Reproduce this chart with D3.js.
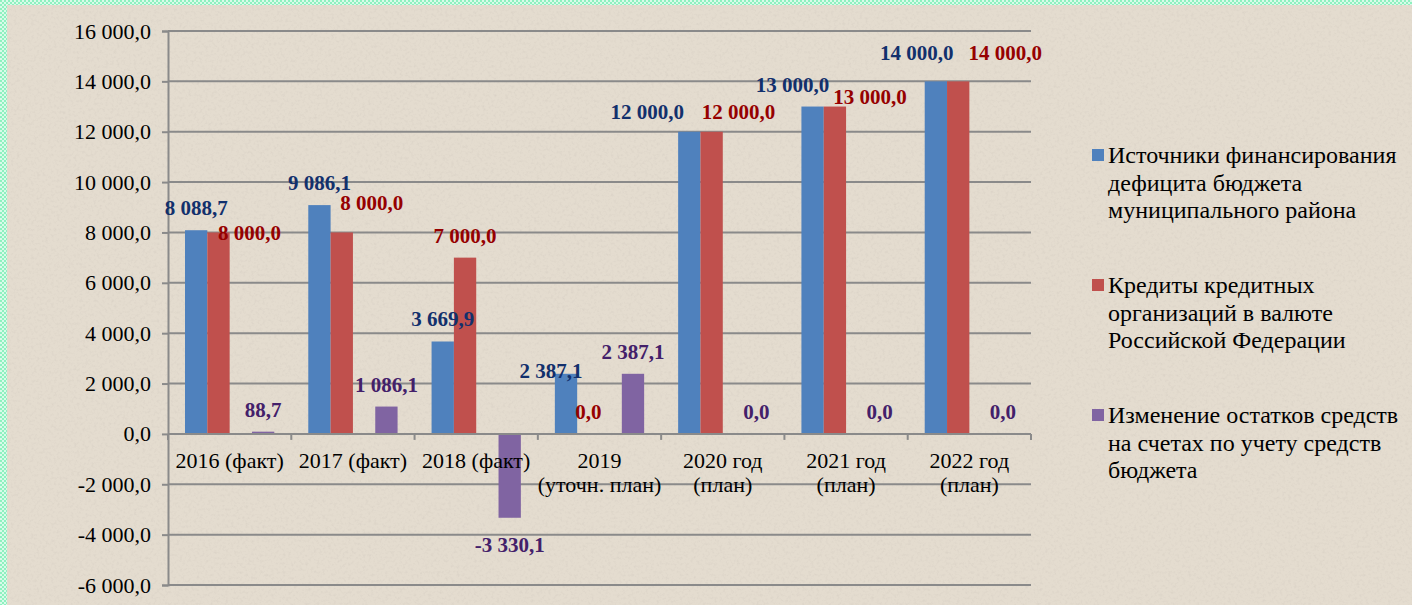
<!DOCTYPE html>
<html>
<head>
<meta charset="utf-8">
<script src="https://cdn.jsdelivr.net/npm/d3@7"></script>
<style>
  html, body { margin: 0; padding: 0; background: #e4dccf; overflow: hidden; }
  svg { display: block; }
</style>
</head>
<body>
<svg id="chart"></svg>
<script>
// --- data ---
const categories = [
  ["2016 (факт)"],
  ["2017 (факт)"],
  ["2018 (факт)"],
  ["2019", "(уточн. план)"],
  ["2020 год", "(план)"],
  ["2021 год", "(план)"],
  ["2022 год", "(план)"]
];
const sources = [8088.7, 9086.1, 3669.9, 2387.1, 12000, 13000, 14000];
const credits = [8000, 8000, 7000, 0, 12000, 13000, 14000];
const balanceChange = [88.7, 1086.1, -3330.1, 2387.1, 0, 0, 0];
const seriesNames = [
  ["Источники финансирования", "дефицита бюджета", "муниципального района"],
  ["Кредиты кредитных", "организаций в валюте", "Российской Федерации"],
  ["Изменение остатков средств", "на счетах по учету средств", "бюджета"]
];
const yTicks = [-6000, -4000, -2000, 0, 2000, 4000, 6000, 8000, 10000, 12000, 14000, 16000];

// --- layout ---
const width = 1412, height = 605;
const plot = { left: 168, right: 1031, top: 31, bottom: 585 };
const barColors = ["#4f81bd", "#c0504d", "#8064a2"];
const labelColors = ["#12306c", "#960000", "#43206a"];
// hand-moved data labels (dx, dy from the default spot above the bar)
const labelNudge = [
  [[0, 0], [0, 0], [0, 0], [-15, 19], [-42, 2], [-20, 0], [-19, -6]],
  [[31, 23], [30, -7], [0, 0], [0, 0], [27, 2], [35, 12], [47, -6]],
  [[0, 0], [0, 0], [0, 0], [0, 0], [0, 0], [0, 0], [0, 0]]
];

const fmt = (v) => {
  const s = Math.abs(v).toFixed(1).split(".");
  const int = s[0].replace(/\B(?=(\d{3})+(?!\d))/g, " ");
  return (v < 0 ? "-" : "") + int + "," + s[1];
};

const svg = d3.select("#chart").attr("width", width).attr("height", height);

// --- background: parchment + border ---
const defs = svg.append("defs");
const pat = defs.append("pattern").attr("id", "check").attr("width", 4).attr("height", 4)
  .attr("patternUnits", "userSpaceOnUse");
pat.append("rect").attr("width", 4).attr("height", 4).attr("fill", "#d8fbe9");
pat.append("rect").attr("width", 2).attr("height", 2).attr("fill", "#8ef0bf");
pat.append("rect").attr("x", 2).attr("y", 2).attr("width", 2).attr("height", 2).attr("fill", "#8ef0bf");

const noise = defs.append("filter").attr("id", "paper").attr("x", 0).attr("y", 0)
  .attr("width", "100%").attr("height", "100%");
noise.append("feTurbulence").attr("type", "fractalNoise").attr("baseFrequency", 0.35)
  .attr("numOctaves", 3).attr("seed", 7).attr("result", "t");
noise.append("feColorMatrix").attr("in", "t").attr("type", "matrix")
  .attr("values", "0 0 0 0 0.55  0 0 0 0 0.5  0 0 0 0 0.45  1.6 0 0 0 -0.75");

svg.append("rect").attr("width", width).attr("height", height).attr("fill", "url(#check)");
svg.append("rect").attr("x", 7).attr("y", 5).attr("width", width).attr("height", height)
  .attr("fill", "#e4dccf");
svg.append("rect").attr("x", 7).attr("y", 5).attr("width", width).attr("height", height)
  .attr("filter", "url(#paper)").attr("opacity", 0.35);

// --- scales ---
const x0 = d3.scaleBand().domain(d3.range(categories.length)).range([plot.left, plot.right]);
const slotPad = 34 / 123.3 / 2 * x0.bandwidth();
const x1 = d3.scaleBand().domain(["s0", "s1", "empty", "s2"]).range([slotPad, x0.bandwidth() - slotPad]);
const slotKeys = ["s0", "s1", "s2"];
const y = d3.scaleLinear().domain([-6000, 16000]).range([plot.bottom, plot.top]);

const font = "'Liberation Serif', 'Times New Roman', serif";

// --- gridlines + y axis ---
const yAxis = svg.append("g").attr("transform", `translate(${plot.left},0)`)
  .call(d3.axisLeft(y).tickValues(yTicks).tickSize(6).tickPadding(11).tickFormat(fmt));
yAxis.select(".domain").attr("stroke", "#8a8a8a").attr("stroke-width", 2);
yAxis.selectAll(".tick line").attr("stroke", "#8a8a8a").attr("stroke-width", 2);
yAxis.selectAll(".tick text").attr("fill", "#000").style("font-family", font).style("font-size", "22px");

svg.append("g").selectAll("line").data(yTicks.filter((t) => t !== 0)).join("line")
  .attr("x1", plot.left).attr("x2", plot.right)
  .attr("y1", (d) => y(d)).attr("y2", (d) => y(d))
  .attr("stroke", "#8a8a8a").attr("stroke-width", 2);

// --- bars ---
const allSeries = [sources, credits, balanceChange];
const barData = [];
allSeries.forEach((vals, si) => vals.forEach((v, ci) => barData.push({ si, ci, v })));

svg.append("g").selectAll("rect").data(barData).join("rect")
  .attr("x", (d) => x0(d.ci) + x1(slotKeys[d.si]))
  .attr("width", x1.bandwidth())
  .attr("y", (d) => y(Math.max(0, d.v)))
  .attr("height", (d) => Math.abs(y(d.v) - y(0)))
  .attr("fill", (d) => barColors[d.si]);

// --- zero axis with category ticks ---
const xAxis = svg.append("g").attr("transform", `translate(0,${y(0)})`);
xAxis.append("line").attr("x1", plot.left).attr("x2", plot.right)
  .attr("stroke", "#8a8a8a").attr("stroke-width", 2);
xAxis.selectAll("line.tk").data(d3.range(categories.length + 1)).join("line").attr("class", "tk")
  .attr("x1", (i) => plot.left + i * x0.step()).attr("x2", (i) => plot.left + i * x0.step())
  .attr("y1", 0).attr("y2", 6).attr("stroke", "#8a8a8a").attr("stroke-width", 2);

const catText = xAxis.selectAll("text").data(categories).join("text")
  .attr("x", (d, i) => x0(i) + x0.bandwidth() / 2)
  .attr("y", 34)
  .attr("text-anchor", "middle")
  .style("font-family", font).style("font-size", "22px").attr("fill", "#000");
catText.selectAll("tspan").data((d) => d).join("tspan")
  .attr("x", function () { return d3.select(this.parentNode).attr("x"); })
  .attr("dy", (d, i) => (i === 0 ? 0 : 24))
  .text((d) => d);

// --- data labels ---
svg.append("g").selectAll("text").data(barData).join("text")
  .attr("x", (d) => x0(d.ci) + x1(slotKeys[d.si]) + x1.bandwidth() / 2 + labelNudge[d.si][d.ci][0])
  .attr("y", (d) => (d.v < 0 ? y(d.v) + 34 : y(d.v) - 15) + labelNudge[d.si][d.ci][1])
  .attr("text-anchor", "middle")
  .style("font-family", font).style("font-size", "21px").style("font-weight", "bold")
  .attr("fill", (d) => labelColors[d.si])
  .text((d) => fmt(d.v));

// --- legend ---
const legend = svg.append("g").attr("transform", "translate(1092,0)");
const entries = legend.selectAll("g").data(seriesNames).join("g")
  .attr("transform", (d, i) => `translate(0,${155 + i * 130})`);
entries.append("rect").attr("x", 0).attr("y", -6).attr("width", 12).attr("height", 12)
  .attr("fill", (d, i) => barColors[i]);
entries.append("text").attr("x", 16).attr("y", 8)
  .style("font-family", font).style("font-size", "24px").attr("fill", "#000")
  .selectAll("tspan").data((d) => d).join("tspan")
  .attr("x", 16).attr("dy", (d, i) => (i === 0 ? 0 : 27.5))
  .text((d) => d);
</script>
</body>
</html>
